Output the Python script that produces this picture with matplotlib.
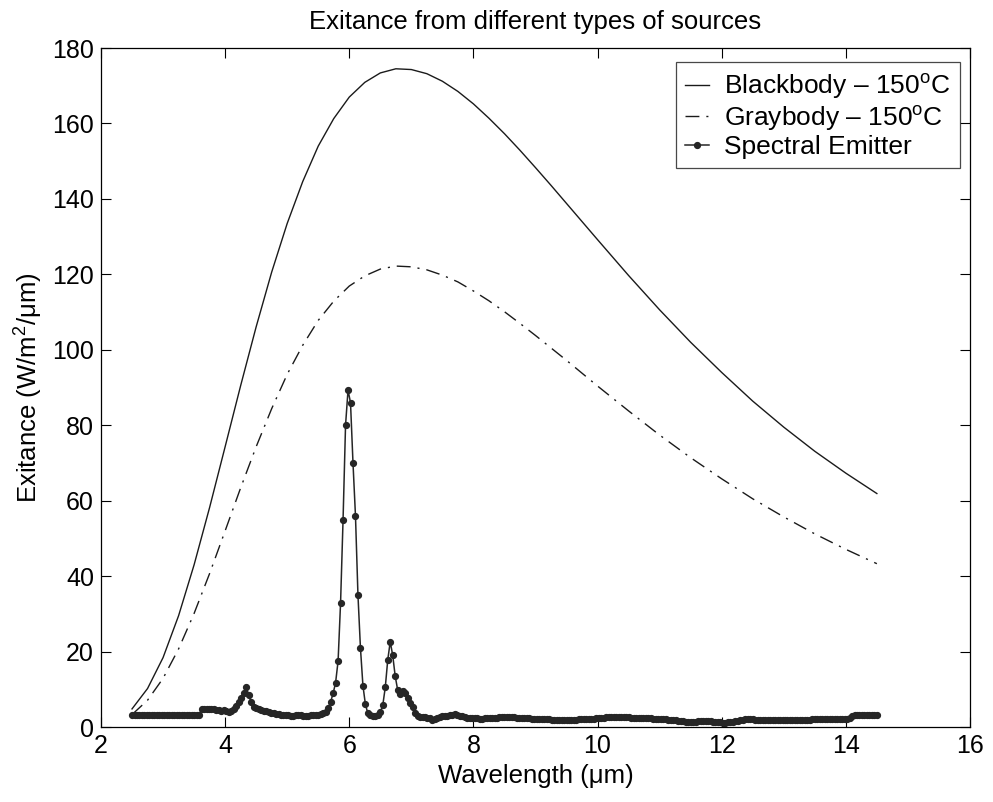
import matplotlib
matplotlib.use('Agg')
import matplotlib.pyplot as plt
import numpy as np

plt.rcParams['font.family'] = ['Liberation Sans', 'DejaVu Sans']
plt.rcParams['mathtext.fontset'] = 'custom'
plt.rcParams['mathtext.rm'] = 'Liberation Sans'

# wavelength samples (um) for the two body curves
wl = [2.5, 2.75, 3.0, 3.25, 3.5, 3.75, 4.0, 4.25, 4.5, 4.75, 5.0, 5.25, 5.5,
      5.75, 6.0, 6.25, 6.5, 6.75, 7.0, 7.25, 7.5, 7.75, 8.0, 8.25, 8.5, 8.75,
      9.0, 9.25, 9.5, 9.75, 10.0, 10.5, 11.0, 11.5, 12.0, 12.5, 13.0, 13.5,
      14.0, 14.5]
blackbody = [4.8, 10.2, 18.4, 29.5, 43.0, 58.2, 74.3, 90.5, 106.1, 120.6,
             133.5, 144.6, 154.0, 161.3, 167.0, 170.9, 173.4, 174.5, 174.3,
             173.2, 171.2, 168.5, 165.2, 161.4, 157.3, 152.9, 148.3, 143.6,
             138.8, 134.0, 129.2, 119.7, 110.6, 102.0, 94.0, 86.4, 79.5, 73.1,
             67.3, 61.9]
graybody = [3.3, 7.1, 12.9, 20.7, 30.1, 40.7, 52.0, 63.4, 74.3, 84.4, 93.5,
            101.2, 107.8, 112.9, 116.9, 119.6, 121.4, 122.2, 122.0, 121.2,
            119.8, 118.0, 115.6, 113.0, 110.1, 107.0, 103.8, 100.5, 97.2,
            93.8, 90.4, 83.8, 77.4, 71.4, 65.8, 60.5, 55.7, 51.2, 47.1, 43.3]

# spectral emitter, sampled every 0.04 um from 2.5 um
emitter_start = 2.5
emitter_step = 0.04
emitter = (
    [3.2] * 28
    + [4.7, 4.8, 4.8, 4.9, 4.8, 4.7, 4.6, 4.4, 4.3, 4.4, 4.3, 4.1, 4.3, 4.8,
       5.5, 6.5, 7.6, 9.0, 10.5, 8.6, 6.5, 5.4, 5.0, 4.7, 4.5, 4.3, 4.2, 4.0,
       3.8, 3.6, 3.5, 3.4, 3.3, 3.2]
    + [3.1, 3.1, 3.0, 3.0, 3.1, 3.1, 3.1, 3.0, 3.0, 3.0, 3.1, 3.1]
    + [3.2, 3.3, 3.4, 3.6, 4.0, 5.0, 6.7, 8.9, 11.8, 17.5,
       33.0, 55.0, 80.0, 89.3, 86.0, 70.0, 56.0, 35.0, 21.0, 11.0,
       6.0, 3.6, 3.1, 3.0, 3.0, 3.1, 3.9, 5.8, 10.5, 17.8,
       22.6, 19.0, 13.5, 9.8, 8.7, 9.6, 9.0, 7.8, 6.3, 5.2,
       3.8, 3.0, 2.6, 2.6, 2.7, 2.5, 2.3, 1.9, 2.1, 2.5,
       2.7, 2.8, 2.9, 3.0, 3.1, 3.3, 3.4, 3.2, 3.0, 2.8,
       2.6, 2.5, 2.4, 2.3]
    + [2.3, 2.3, 2.2, 2.2, 2.3, 2.3, 2.4, 2.4, 2.5, 2.5, 2.6, 2.6, 2.7, 2.7,
       2.7, 2.6, 2.6, 2.5, 2.5, 2.4, 2.4, 2.3, 2.3, 2.2, 2.2]
    + [2.2, 2.1, 2.1, 2.0, 2.0, 2.0, 1.9, 1.9, 1.9, 1.8, 1.8, 1.8, 1.8, 1.8,
       1.9, 1.9, 1.9, 2.0, 2.0, 2.0, 2.1, 2.1, 2.2, 2.2, 2.3]
    + [2.4, 2.5, 2.5, 2.6, 2.6, 2.6, 2.7, 2.7, 2.7, 2.7, 2.6, 2.6, 2.6, 2.5,
       2.5, 2.5, 2.4, 2.4, 2.4, 2.3, 2.3, 2.3, 2.2, 2.2, 2.1]
    + [2.1, 2.0, 2.0, 1.9, 1.9, 1.8, 1.8, 1.7, 1.6, 1.5, 1.4, 1.4, 1.3, 1.3,
       1.4, 1.5, 1.6, 1.7, 1.7, 1.6, 1.5, 1.4, 1.3, 1.2, 1.2]
    + [1.1, 1.1, 1.2, 1.3, 1.4, 1.6, 1.7, 1.8, 1.9, 2.0, 2.0, 2.0, 2.0, 1.9,
       1.9, 1.9, 1.9, 1.9, 1.9, 1.9, 1.9, 1.9, 1.9, 1.9, 1.9]
    + [1.9] * 11 + [2.0] * 14
    + [2.1, 2.4, 2.8, 3.1, 3.2, 3.2, 3.2, 3.2, 3.2, 3.2, 3.2, 3.3, 3.3]
)
emitter_wl = emitter_start + emitter_step * np.arange(len(emitter))

labels = ['Blackbody \u2013 150$^{\\mathrm{o}}$C',
          'Graybody \u2013 150$^{\\mathrm{o}}$C',
          'Spectral Emitter']

fig = plt.figure(figsize=(9.93, 8.02), dpi=100)
ax = fig.add_axes([0.1017, 0.0935, 0.8751, 0.8466])

ax.plot(wl, blackbody, color='#1a1a1a', lw=1.0, label=labels[0])
ax.plot(wl, graybody, color='#1a1a1a', lw=1.0, linestyle=(0, (10, 5, 1.5, 5)),
        label=labels[1])
ax.plot(emitter_wl, emitter, color='#262626', lw=1.1, marker='o',
        markersize=4.2, label=labels[2])

ax.set_xlim(2, 16)
ax.set_ylim(0, 180)
ax.set_xticks(np.arange(2, 17, 2))
ax.set_yticks(np.arange(0, 181, 20))
ax.tick_params(direction='in', top=True, right=True, length=7, width=0.8,
               labelsize=18, pad=5)
for s in ax.spines.values():
    s.set_linewidth(0.9)

ax.set_title('Exitance from different types of sources', fontsize=18.5, pad=14)
ax.set_xlabel('Wavelength (\u03bcm)', fontsize=18.5, labelpad=4)
ax.set_ylabel('Exitance (W/m$^2$/\u03bcm)', fontsize=18.5, labelpad=6)

leg = ax.legend(loc='upper right', fontsize=19, frameon=True, fancybox=False,
                edgecolor='#1a1a1a', handlelength=0.9, borderpad=0.35,
                labelspacing=0.08, handletextpad=0.6, borderaxespad=0,
                bbox_to_anchor=(0.9885, 0.9794))
leg.get_frame().set_linewidth(0.9)

fig.savefig('out.png', dpi=100)
